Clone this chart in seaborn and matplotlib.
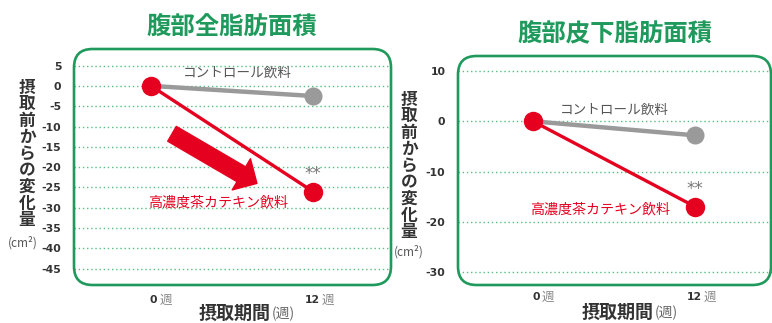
import matplotlib
matplotlib.use('Agg')
import matplotlib.pyplot as plt
import seaborn as sns
import pandas as pd
from matplotlib.patches import FancyBboxPatch

# ---------------- data ----------------
weeks = [0, 12]
week_labels = ['0', '12']
week_unit = '週'
titles = ['腹部全脂肪面積', '腹部皮下脂肪面積']
control_total = [0, -2.5]
catechin_total = [0, -26]
control_sub = [0, -2.8]
catechin_sub = [0, -17]
control_name = 'コントロール飲料'
catechin_name = '高濃度茶カテキン飲料'
ylabel_text = '摂取前からの変化量'
yunit_text = '(cm²)'
xlabel_text = '摂取期間'
xunit_text = '(週)'
sig_mark = '**'
yticks_total = [5, 0, -5, -10, -15, -20, -25, -30, -35, -40, -45]
yticks_sub = [10, 0, -10, -20, -30]

# ---------------- style ----------------
sns.set_theme(style='white')
plt.rcParams['font.family'] = ['Noto Sans CJK JP', 'DejaVu Sans']

W, H = 772, 323
GREEN = '#1f9a5c'
GRID = '#55c07f'
RED = '#e60020'
GREY = '#9a9a9a'
DARK = '#333333'

fig = plt.figure(figsize=(W / 100, H / 100), dpi=100)


def fx(px):
    return px / W


def fy(py):
    return 1 - py / H


def make_axes(x0, y0, x1, y1):
    return fig.add_axes([fx(x0), fy(y1), fx(x1) - fx(x0), fy(y0) - fy(y1)])


def add_box(x0, y0, x1, y1):
    box = FancyBboxPatch((fx(x0), fy(y1)), fx(x1) - fx(x0), fy(y0) - fy(y1),
                         boxstyle='round,pad=0,rounding_size=0.024',
                         mutation_aspect=W / H, transform=fig.transFigure,
                         fill=False, ec=GREEN, lw=1.9, clip_on=False, zorder=5)
    fig.add_artist(box)


panels = [
    dict(rect=(74, 49, 391, 285), box=(74, 49, 391, 285), xlim=(-5.7, 17.78), ylim=(-49.0, 9.07),
         ctrl=control_total, cat=catechin_total, yticks=yticks_total, title=titles[0],
         title_xy=(232, 27), ylab_xy=(27, 154), yunit_xy=(23, 243),
         xlab_x=271, xlab_y=313, tick_y=15, ctrl_lab=(6.37, 3.2), cat_lab=(4.96, -28.7), arrow=True),
    dict(rect=(458, 56, 772, 285), box=(458, 56, 771, 285), xlim=(-5.56, 17.7), ylim=(-32.6, 13.0),
         ctrl=control_sub, cat=catechin_sub, yticks=yticks_sub, title=titles[1],
         title_xy=(615, 33), ylab_xy=(409, 166), yunit_xy=(409, 252),
         xlab_x=654, xlab_y=312, tick_y=12, ctrl_lab=(6.0, 2.4), cat_lab=(4.96, -17.6), arrow=False),
]

for p in panels:
    ax = make_axes(*p['rect'])
    ax.set_facecolor('none')
    df_c = pd.DataFrame({'week': weeks, 'value': p['ctrl']})
    df_t = pd.DataFrame({'week': weeks, 'value': p['cat']})
    sns.lineplot(data=df_c, x='week', y='value', ax=ax, color=GREY, lw=3.2,
                 marker='o', markersize=13, markeredgewidth=0, zorder=3)
    sns.lineplot(data=df_t, x='week', y='value', ax=ax, color=RED, lw=2.4,
                 marker='o', markersize=14, markeredgewidth=0, zorder=4)
    ax.set_xlim(*p['xlim'])
    ax.set_ylim(*p['ylim'])
    ax.set_yticks(p['yticks'])
    ax.set_yticklabels([str(v) for v in p['yticks']])
    ax.set_xticks([])
    ax.set_xlabel('')
    ax.set_ylabel('')
    for s in ax.spines.values():
        s.set_visible(False)
    ax.yaxis.grid(True, linestyle=(0, (1, 2)), color=GRID, lw=1.0)
    ax.xaxis.grid(False)
    ax.tick_params(axis='y', length=0, pad=9, labelsize=7.8, labelcolor=DARK)
    for lbl in ax.get_yticklabels():
        lbl.set_fontweight('bold')
        lbl.set_family(['DejaVu Sans'])

    # x tick labels
    for w, lab in zip(weeks, week_labels):
        ax.annotate(lab, xy=(w, 0), xycoords=('data', 'axes fraction'),
                    xytext=(6.5 * 0.72, -p['tick_y'] * 0.72), textcoords='offset points',
                    ha='right', va='center', fontsize=7.8, fontweight='bold', color=DARK,
                    family=['DejaVu Sans'], annotation_clip=False)
        ax.annotate(week_unit, xy=(w, 0), xycoords=('data', 'axes fraction'),
                    xytext=(8.5 * 0.72, -p['tick_y'] * 0.72), textcoords='offset points',
                    ha='left', va='center', fontsize=9, color='#888888', annotation_clip=False)

    # series labels
    ax.text(p['ctrl_lab'][0], p['ctrl_lab'][1], control_name, ha='center', va='center',
            fontsize=9.8, color='#555555')
    ax.text(p['cat_lab'][0], p['cat_lab'][1], catechin_name, ha='center', va='center',
            fontsize=10.1, color=RED)
    ax.annotate(sig_mark, xy=(weeks[1], p['cat'][1]), xytext=(0, 12.5), textcoords='offset points',
                ha='center', va='center', fontsize=12, color='#777777', family=['DejaVu Sans'])

    if p['arrow']:
        ax.annotate('', xy=(7.85, -24.0), xytext=(1.56, -11.8),
                    arrowprops=dict(arrowstyle='simple,head_length=1.0,head_width=2.0,tail_width=0.95',
                                    fc=RED, ec=RED, mutation_scale=13, shrinkA=0, shrinkB=0),
                    zorder=2)

    add_box(*p['box'])

    # titles and axis labels
    fig.text(fx(p['title_xy'][0]), fy(p['title_xy'][1]), p['title'], ha='center', va='center',
             fontsize=17.6, fontweight='bold', color=GREEN)
    fig.text(fx(p['ylab_xy'][0]), fy(p['ylab_xy'][1]), '\n'.join(ylabel_text), ha='center', va='center',
             fontsize=12, fontweight='bold', color=DARK, linespacing=0.9)
    fig.text(fx(p['yunit_xy'][0]), fy(p['yunit_xy'][1]), yunit_text, ha='center', va='center',
             fontsize=8.5, color='#555555')
    fig.text(fx(p['xlab_x']), fy(p['xlab_y']), xlabel_text, ha='right', va='center',
             fontsize=13, fontweight='bold', color=DARK)
    fig.text(fx(p['xlab_x'] + 1), fy(p['xlab_y'] + 1), xunit_text, ha='left', va='center',
             fontsize=10, color='#666666')

fig.savefig('out.png', dpi=100, facecolor='white')
